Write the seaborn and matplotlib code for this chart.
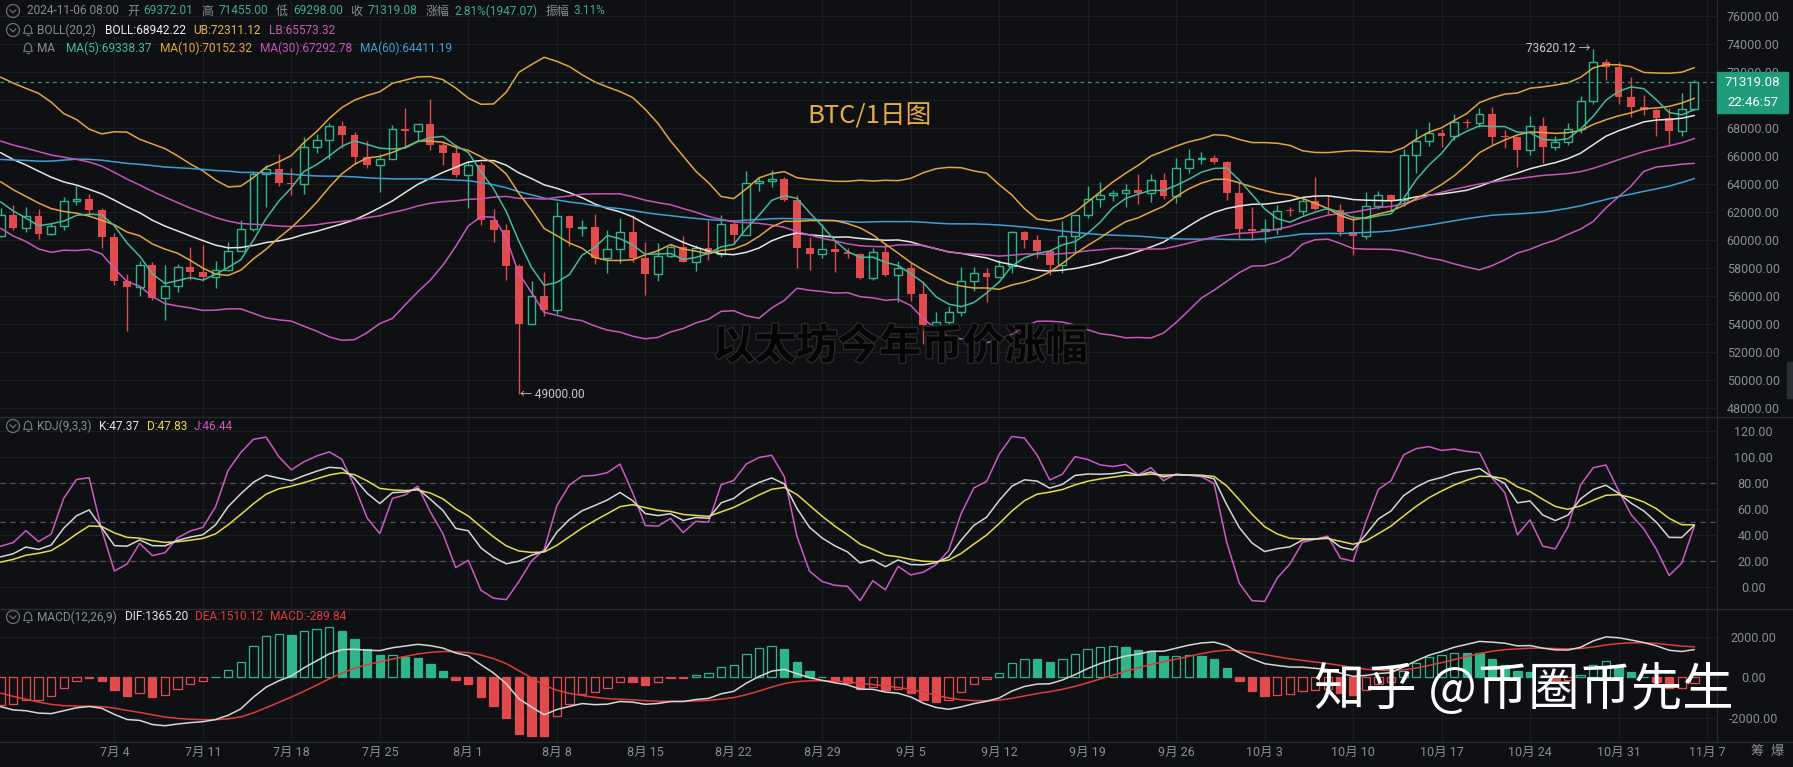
"""BTC daily candles with BOLL / MA, KDJ and MACD panels (dark exchange style)."""
import matplotlib
matplotlib.use("Agg")

import numpy as np
import pandas as pd
import matplotlib.pyplot as plt
import seaborn as sns
from matplotlib.patches import Circle, Polygon, Rectangle
from matplotlib import patheffects as pe

OUTPUT_PATH = "out.png"

# closes before the visible window (04-27 .. 06-24), only used to warm up the indicators
pre_close = [
    63423, 63118, 63866, 60672,
    58364, 59060, 62882, 63892, 64013, 63165, 62313, 61193, 63075, 60799,
    60826, 61484, 62938, 61578, 66206, 65235, 67024, 66915, 66274, 71447,
    70136, 69122, 67929, 68527, 69265, 68518, 69395, 68367, 67636, 68353, 67491,
    67707, 67752, 68805, 70568, 71082, 70757, 69342, 69305, 69648, 69530,
    67321, 68243, 66757, 66012, 66191, 66639, 66490, 65140, 64960, 64829,
    64096, 64253, 63180, 60277,
]
# highs / lows of the last 15 warm-up days (06-10 .. 06-24), for KDJ
pre_high = [70195, 69560, 69999, 68449, 67320, 66895, 66965, 67298, 66556,
            65738, 66482, 65067, 64520, 64523, 63370]
pre_low = [69160, 66051, 66902, 66764, 65078, 65900, 66000, 65130, 64066,
           64693, 64560, 63379, 63943, 63178, 58402]

# visible daily candles, 2024-06-25 .. 2024-11-06
open_ = [
    60277, 61806, 60864, 61707, 60427, 60986,
    62773, 62900, 62135, 60208, 57050, 56628, 58230, 55857, 56714, 58050,
    57725, 57339, 57889, 59204, 60798, 64724, 65043, 64087, 63987, 66660,
    67139, 68166, 67532, 65936, 65372, 65777, 67911, 67813, 68255, 66820, 66201,
    64620, 65357, 61415, 60680, 58116, 53991, 56034, 55027, 61710, 60881,
    60945, 58713, 59346, 60587, 58683, 57542, 58874, 59491, 58427, 59438,
    59014, 61157, 60381, 64094, 64179, 64334, 62842, 59415, 59034, 59359, 59123,
    58973, 57301, 59132, 57487, 57970, 56160, 53962, 54160, 54869, 57042,
    57635, 57338, 58127, 60571, 60005, 59182, 58192, 60309, 61759, 62947,
    63201, 63348, 63578, 63339, 64262, 63152, 65173, 65769, 65858, 65602,
    63327, 60804, 60649, 60752, 62086, 62058, 62819, 62224, 62131, 60583,
    60275, 62445, 63193, 62851, 66046, 67042, 67612, 67399, 68418, 68362,
    69001, 67367, 67361, 66432, 68161, 66642, 67014, 67929, 69907, 72720, 72339,
    70215, 69482, 69289, 68742, 67811, 69372.01,
]
high = [
    62258, 62487, 62389, 62225, 61224, 63058,
    63861, 63288, 62285, 60498, 57546, 58475, 58449, 58236, 58296, 59470,
    59650, 58526, 59850, 61420, 64900, 65388, 66128, 65133, 67386, 67598,
    68366, 68479, 67750, 67102, 66175, 68200, 69399, 68319, 70079, 66987, 66810,
    65659, 65596, 62198, 61117, 58305, 57059, 57736, 62745, 61798, 61464,
    61858, 60680, 61578, 61800, 59849, 59817, 59700, 60284, 59617, 61400,
    61820, 61400, 64955, 64494, 65000, 64481, 63220, 60234, 61166, 59944, 59462,
    59054, 59425, 59809, 58519, 58327, 56995, 54850, 55318, 58088, 58044,
    57981, 58588, 60625, 60610, 60380, 59210, 61357, 61786, 63850, 64133,
    63559, 64000, 64745, 64688, 64817, 65839, 66498, 66260, 66076, 65618,
    64130, 62390, 61477, 62484, 62370, 62975, 64478, 63200, 62543, 61750,
    63417, 63480, 63285, 66500, 67950, 68424, 67939, 68969, 68668, 69400,
    69500, 67836, 67400, 68850, 68777, 67454, 68332, 70270, 73620.12, 72961, 72700,
    71632, 70329, 69361, 69432, 70522, 71455.00,
]
low = [
    60239, 60712, 60606, 60063, 60383, 60712,
    62497, 61806, 59400, 56771, 53485, 56019, 55724, 54260, 56290, 57157,
    57050, 56542, 57756, 59186, 60632, 62373, 63854, 63238, 63300, 66222,
    65777, 66573, 65441, 65111, 63457, 65757, 66705, 67066, 66428, 65323, 64532,
    62302, 61100, 59850, 57122, 49000.00, 53973, 54558, 54730, 59575, 60287,
    58286, 57642, 58392, 58433, 56078, 57098, 58785, 58408, 57787, 58548,
    58783, 59724, 60342, 63531, 63773, 62800, 58034, 57860, 58716, 57701, 58744,
    57201, 57128, 57415, 55606, 55643, 52550, 53745, 53629, 54591, 56386,
    55545, 57324, 57632, 59400, 58696, 57493, 57610, 59175, 61555, 62350,
    62759, 62357, 62538, 62700, 62947, 62670, 64819, 65422, 65432, 62856,
    60164, 60000, 59828, 60459, 61689, 61798, 62128, 61860, 60300, 58946,
    60087, 62250, 62050, 62457, 64800, 66750, 66666, 67177, 68025, 68100,
    66835, 66571, 65188, 66051, 65521, 66439, 66800, 67618, 69730, 71436, 69685,
    68779, 68895, 67454, 66803, 67458, 69298.00,
]
close = [
    61806, 60864, 61707, 60427, 60986, 62773,
    62900, 62135, 60208, 57050, 56628, 58230, 55857, 56714, 58050, 57725,
    57339, 57889, 59204, 60798, 64724, 65043, 64087, 63987, 66660, 67139,
    68166, 67532, 65936, 65372, 65777, 67911, 67813, 68255, 66820, 66201, 64620,
    65357, 61415, 60680, 58116, 53991, 56034, 55027, 61710, 60881, 60945,
    58713, 59346, 60587, 58683, 57542, 58874, 59491, 58427, 59438, 59014,
    61157, 60381, 64094, 64179, 64334, 62842, 59415, 59034, 59359, 59123, 58973,
    57301, 59132, 57487, 57970, 56160, 53962, 54160, 54869, 57042, 57635,
    57338, 58127, 60571, 60005, 59182, 58192, 60309, 61759, 62947, 63201,
    63348, 63578, 63339, 64262, 63152, 65173, 65769, 65858, 65602, 63327,
    60804, 60649, 60752, 62086, 62058, 62819, 62224, 62131, 60583, 60275,
    62445, 63193, 62851, 66046, 67042, 67612, 67399, 68418, 68362, 69001,
    67367, 67361, 66432, 68161, 66642, 67014, 67929, 69907, 72720, 72339, 70215,
    69482, 69289, 68742, 67811, 69372.01, 71319.08,
]

tick_labels = ["7月 4", "7月 11", "7月 18", "7月 25", "8月 1", "8月 8", "8月 15",
               "8月 22", "8月 29", "9月 5", "9月 12", "9月 19", "9月 26", "10月 3",
               "10月 10", "10月 17", "10月 24", "10月 31", "11月 7"]
price_ticks = list(range(48000, 76001, 2000))
kdj_ticks = [0, 20, 40, 60, 80, 100, 120]
kdj_levels = [20, 50, 80]
macd_ticks = [-2000, 0, 2000]

BG = "#0f1013"
GRID = "#1b1d22"
SEP = "#2a2c32"
TXT = "#8a8d95"
UP = "#2fb58a"
DOWN = "#e04b4e"
C_MA5, C_MA10, C_MA30, C_MA60 = "#45bb9c", "#e3a63e", "#c852b8", "#3f9fd4"
C_UB, C_LB, C_MID = "#e3a63e", "#c958bb", "#e6e6e6"
C_K, C_D, C_J = "#d6d6d6", "#e6dc4a", "#cf58c3"
C_DIF, C_DEA = "#d6d6d6", "#e03c3c"
VAL_GREEN = "#3fae88"

W, H = 1793, 767
PLOT_R = 1717

sns.set_theme(style="dark", rc={
    "axes.facecolor": BG, "figure.facecolor": BG, "axes.edgecolor": BG,
    "grid.color": GRID, "text.color": TXT,
})
plt.rcParams["font.family"] = ["Roboto", "Noto Sans CJK SC", "DejaVu Sans"]

# ---- indicators -------------------------------------------------------------
n_pre = len(pre_close)
allc = pd.Series(pre_close + close, dtype=float)
ma = {n: allc.rolling(n).mean().to_numpy()[n_pre:] for n in (5, 10, 30, 60)}
mid = allc.rolling(20).mean()
sd = allc.rolling(20).std(ddof=0)
ub = (mid + 2 * sd).to_numpy()[n_pre:]
lb = (mid - 2 * sd).to_numpy()[n_pre:]
mid = mid.to_numpy()[n_pre:]

dif = allc.ewm(span=12, adjust=False).mean() - allc.ewm(span=26, adjust=False).mean()
dea = dif.ewm(span=9, adjust=False).mean()
hist = (2 * (dif - dea)).to_numpy()[n_pre:]
dif = dif.to_numpy()[n_pre:]
dea = dea.to_numpy()[n_pre:]

kc = pd.Series(pre_close[-len(pre_high):] + close, dtype=float)
kh = pd.Series(pre_high + high, dtype=float)
kl = pd.Series(pre_low + low, dtype=float)
llv = kl.rolling(9, min_periods=1).min()
hhv = kh.rolling(9, min_periods=1).max()
rsv = (kc - llv) / (hhv - llv) * 100
K = rsv.ewm(alpha=1 / 3, adjust=False).mean()
D = K.ewm(alpha=1 / 3, adjust=False).mean()
J = 3 * K - 2 * D
nv = len(close)
K, D, J = (s.to_numpy()[-nv:] for s in (K, D, J))

x = np.arange(nv, dtype=float)
o, h, l, c = (np.asarray(v, dtype=float) for v in (open_, high, low, close))
tick_idx = [9 + 7 * i for i in range(len(tick_labels))]

# ---- figure -----------------------------------------------------------------
fig = plt.figure(figsize=(W / 100, H / 100), dpi=100)


def panel(top, bottom):
    a = fig.add_axes([0, 1 - bottom / H, PLOT_R / W, (bottom - top) / H])
    a.set_facecolor(BG)
    for s in a.spines.values():
        s.set_visible(False)
    a.set_xlim(-0.05, 135.79)
    a.set_xticks(tick_idx)
    a.grid(True, color=GRID, linewidth=0.9)
    a.yaxis.tick_right()
    a.tick_params(axis="y", length=0, pad=26, labelsize=9, labelcolor=TXT)
    a.tick_params(axis="x", length=0, labelbottom=False)
    return a


ax_p = panel(0, 417)
ax_k = panel(417, 609)
ax_m = panel(609, 742)

# price panel
ax_p.set_ylim(47357, 77143)
ax_p.set_yticks(price_ticks)
ax_p.set_yticklabels([f"{v:.2f}" for v in price_ticks])

up = c >= o
body_lo = np.minimum(o, c)
body_h = np.maximum(np.abs(c - o), 60)
bw = 0.62
ax_p.vlines(x[~up], l[~up], h[~up], color=DOWN, linewidth=1.0, zorder=2)
ax_p.vlines(x[up], l[up], body_lo[up], color=UP, linewidth=1.0, zorder=2)
ax_p.vlines(x[up], (body_lo + body_h)[up], h[up], color=UP, linewidth=1.0, zorder=2)
ax_p.bar(x[~up], body_h[~up], bottom=body_lo[~up], width=bw, color=DOWN,
         linewidth=0, zorder=3)
ax_p.bar(x[up], body_h[up], bottom=body_lo[up], width=bw, facecolor=BG,
         edgecolor=UP, linewidth=1.0, zorder=3)

for series, col in [(ub, C_UB), (lb, C_LB), (mid, C_MID), (ma[60], C_MA60),
                    (ma[30], C_MA30), (ma[10], C_MA10), (ma[5], C_MA5)]:
    sns.lineplot(x=x, y=series, ax=ax_p, color=col, linewidth=1.1, zorder=4)
ax_p.axhline(close[-1], color="#3f8f80", linestyle=(0, (3, 3)), linewidth=0.9, zorder=5)

# KDJ panel
ax_k.set_ylim(-17.2, 130.8)
ax_k.set_yticks(kdj_ticks)
ax_k.set_yticklabels([f"{v:.2f}" for v in kdj_ticks])
for lv in kdj_levels:
    ax_k.axhline(lv, color="#55585f", linestyle=(0, (4, 4)), linewidth=0.9, zorder=2)
for series, col in [(J, C_J), (D, C_D), (K, C_K)]:
    sns.lineplot(x=x, y=series, ax=ax_k, color=col, linewidth=1.1, zorder=4)

# MACD panel
ax_m.set_ylim(-3162, 3358)
ax_m.set_yticks(macd_ticks)
ax_m.set_yticklabels([f"{v:.2f}" for v in macd_ticks])
prev = np.r_[hist[0], hist[:-1]]
rising = hist >= prev
for mask, fc, ec in [((hist >= 0) & rising, BG, UP), ((hist >= 0) & ~rising, UP, UP),
                     ((hist < 0) & rising, BG, DOWN), ((hist < 0) & ~rising, DOWN, DOWN)]:
    ax_m.bar(x[mask], hist[mask], width=0.66, facecolor=fc, edgecolor=ec,
             linewidth=0.9, zorder=3)
sns.lineplot(x=x, y=dea, ax=ax_m, color=C_DEA, linewidth=1.1, zorder=4)
sns.lineplot(x=x, y=dif, ax=ax_m, color=C_DIF, linewidth=1.1, zorder=4)
ax_m.set_xticklabels(tick_labels)
ax_m.tick_params(axis="x", labelbottom=True, labelsize=9, labelcolor=TXT, pad=3)

for a in (ax_p, ax_k, ax_m):
    a.set_xlabel("")
    a.set_ylabel("")
    for lab in a.get_yticklabels():
        lab.set_ha("center")

# ---- overlay in pixel coordinates ------------------------------------------
ov = fig.add_axes([0, 0, 1, 1])
ov.set_xlim(0, W)
ov.set_ylim(H, 0)
ov.axis("off")
ov.patch.set_alpha(0)

for yy in (417, 609, 742):
    ov.plot([0, W], [yy, yy], color=SEP, linewidth=1.0)
ov.plot([PLOT_R, PLOT_R], [0, 742], color=SEP, linewidth=0.8)


def chevron(cx, cy):
    ov.add_patch(Circle((cx, cy), 6.5, fill=False, edgecolor="#6d7078", linewidth=0.9))
    ov.plot([cx - 3, cx, cx + 3], [cy - 1.2, cy + 1.8, cy - 1.2], color="#6d7078",
            linewidth=0.9)


def bell(cx, cy):
    pts = [(cx - 4.5, cy + 3.5), (cx - 3.5, cy + 2), (cx - 3.5, cy - 1.5), (cx - 2, cy - 4),
           (cx, cy - 5), (cx + 2, cy - 4), (cx + 3.5, cy - 1.5), (cx + 3.5, cy + 2),
           (cx + 4.5, cy + 3.5)]
    ov.add_patch(Polygon(pts, closed=True, fill=False, edgecolor="#6d7078", linewidth=0.9))
    ov.plot([cx - 1.3, cx + 1.3], [cy + 5.2, cy + 5.2], color="#6d7078", linewidth=0.9)


renderer = fig.canvas.get_renderer()


def text_row(y, x0, parts, size=8.6):
    xx = x0
    for s, col, gap in parts:
        t = ov.text(xx, y, s, color=col, fontsize=size, va="center", ha="left")
        xx += t.get_window_extent(renderer=renderer).width + gap


chevron(13, 11)
text_row(11, 27, [("2024-11-06 08:00", TXT, 8), ("开", TXT, 5), ("69372.01", VAL_GREEN, 8),
                  ("高", TXT, 5), ("71455.00", VAL_GREEN, 8), ("低", TXT, 5),
                  ("69298.00", VAL_GREEN, 8), ("收", TXT, 5), ("71319.08", VAL_GREEN, 8),
                  ("涨幅", TXT, 5), ("2.81%(1947.07)", VAL_GREEN, 8), ("振幅", TXT, 5),
                  ("3.11%", VAL_GREEN, 0)])
chevron(13, 30)
bell(28, 30)
text_row(30, 37, [("BOLL(20,2)", TXT, 9), ("BOLL:68942.22", "#f2f2f2", 8),
                  ("UB:72311.12", "#e6b252", 8), ("LB:65573.32", "#c95cb9", 0)])
bell(28, 48)
text_row(48, 37, [("MA", TXT, 11), ("MA(5):69338.37", C_MA5, 8),
                  ("MA(10):70152.32", C_MA10, 8), ("MA(30):67292.78", C_MA30, 8),
                  ("MA(60):64411.19", C_MA60, 0)])
chevron(13, 426)
bell(28, 426)
text_row(426, 37, [("KDJ(9,3,3)", TXT, 8), ("K:47.37", "#e6e6e6", 7),
                   ("D:47.83", C_D, 7), ("J:46.44", C_J, 0)])
chevron(13, 617)
bell(28, 617)
text_row(617, 37, [("MACD(12,26,9)", TXT, 8), ("DIF:1365.20", "#e6e6e6", 7),
                   ("DEA:1510.12", C_DEA, 7), ("MACD:-289.84", C_DEA, 0)])

# last price tags
ov.add_patch(Rectangle((1717, 72), 71, 20, color="#1f9c7b", zorder=5))
ov.add_patch(Rectangle((1717, 93), 71, 20, color="#1f9c7b", zorder=5))
ov.text(1752.5, 82, "71319.08", color="white", fontsize=9.5, ha="center", va="center",
        zorder=6)
ov.text(1752.5, 103, "22:46:57", color="white", fontsize=9.5, ha="center", va="center",
        zorder=6)
ov.add_patch(Rectangle((1787, 362), 6, 36, color="#2c2e35"))

# extreme annotations
ov.text(1590, 49, "73620.12 →", color="#c9c9c9", fontsize=8.6, ha="right", va="center")
ov.text(520, 394, "← 49000.00", color="#c9c9c9", fontsize=8.6, ha="left", va="center")

ov.text(1757, 752, "筹", color=TXT, fontsize=9.5, ha="center", va="center")
ov.text(1777, 752, "爆", color=TXT, fontsize=9.5, ha="center", va="center")

# captions laid over the chart
ov.text(870, 117, "BTC/1日图", color="#e9ac45", fontsize=18.5, ha="center", va="center",
        family=["Noto Sans CJK SC", "DejaVu Sans"])
ov.text(900, 347, "以太坊今年币价涨幅", color="#050505", fontsize=30, fontweight="heavy",
        ha="center", va="center", family=["Noto Sans CJK SC", "DejaVu Sans"],
        path_effects=[pe.withStroke(linewidth=2.0, foreground="#2a2a2a")])
ov.text(1524, 690, "知乎 @币圈币先生", color="white", fontsize=37, ha="center", va="center",
        family=["Noto Sans CJK SC", "DejaVu Sans"])

fig.savefig(OUTPUT_PATH, dpi=100, facecolor=BG)
plt.close(fig)
print(f"Saved: {OUTPUT_PATH}")
